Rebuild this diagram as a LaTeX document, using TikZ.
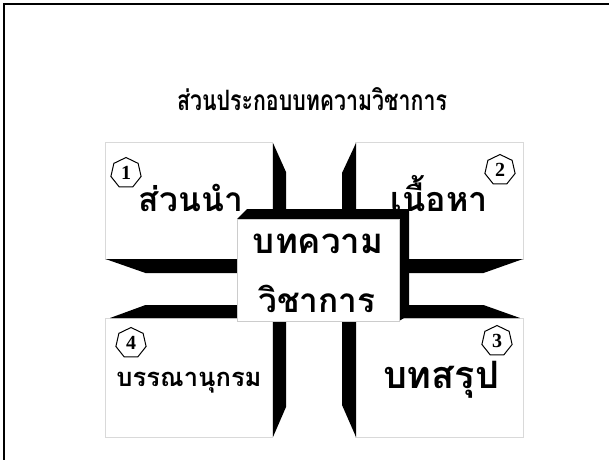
\documentclass[tikz,border=0pt]{standalone}
\usepackage{fontspec}
\usepackage{graphicx}
\newfontfamily\thai[Script=Thai]{Loma}
\newfontfamily\numfont{Liberation Serif}
\usetikzlibrary{shapes.geometric}
\begin{document}
\begin{tikzpicture}[x=1pt,y=-1pt,
  panel/.style={draw=black!15, fill=white, line width=0.6pt},
  bar/.style={fill=black},
  lbl/.style={inner sep=0pt, anchor=base, font=\thai\bfseries},
  badge/.style={regular polygon, regular polygon sides=7, draw, line width=1pt,
    fill=white, minimum size=31pt, inner sep=0pt,
    font=\numfont\bfseries\fontsize{20}{20}\selectfont}]
\useasboundingbox (0,0) rectangle (609,459);
\fill[white] (0,0) rectangle (609,459);
\draw[line width=2pt] (4,470) -- (4,4) -- (620,4);
% title
\node[lbl] (title) at (312,110.5)
  {\resizebox{270pt}{23pt}{ส่วนประกอบบทความวิชาการ}};
% panels
\draw[panel] (105.5,142.5) rectangle (272.5,259);
\draw[panel] (355.5,142.5) rectangle (523,259);
\draw[panel] (105.5,318) rectangle (272.5,437);
\draw[panel] (355.5,318) rectangle (523,437);
% bars
\fill[bar] (273,143) -- (286,172) -- (286,407) -- (273,437) -- cycle;
\fill[bar] (356,143) -- (342,173) -- (342,405) -- (356,437) -- cycle;
\fill[bar] (105.5,259) -- (523,259) -- (483.5,273) -- (145.5,273) -- cycle;
\fill[bar] (110,318) -- (145.5,305) -- (483.5,305) -- (520,318) -- cycle;
% labels
\node[lbl] (l1) at (191,211) {\resizebox{104pt}{!}{ส่วนนำ}};
\node[lbl] (l2) at (439.5,211.5) {\resizebox{97pt}{!}{เนื้อหา}};
\node[lbl] (l4) at (189,386.5) {\resizebox{145pt}{!}{บรรณานุกรม}};
\node[lbl] (l3) at (441,388) {\resizebox{116pt}{!}{บทสรุป}};
% badges
\node[badge] (n1) at (126,173) {1};
\node[badge] (n2) at (500,170) {2};
\node[badge] (n3) at (497,341) {3};
\node[badge] (n4) at (131,343) {4};
% center box
\fill[black] (237,219) -- (247,209) -- (409,209) -- (409,315) -- (399,321) -- (237,321) -- cycle;
\draw[fill=white, draw=black!20, line width=0.6pt] (237,219) rectangle (399,321);
\node[lbl] (c1) at (318,253) {\resizebox{130pt}{!}{บทความ}};
\node[lbl] (c2) at (317,312) {\resizebox{117pt}{!}{วิชาการ}};
\end{tikzpicture}
\end{document}
